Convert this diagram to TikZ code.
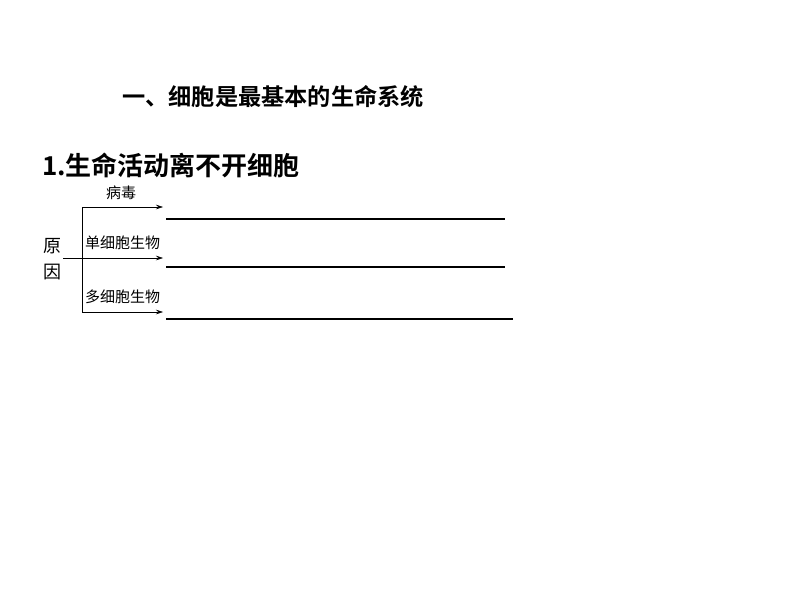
\documentclass[tikz,border=0pt]{standalone}
\usepackage{fontspec}
\usetikzlibrary{arrows.meta}
\newfontfamily\cjk{Noto Sans CJK SC}
\newfontfamily\cjkbold{Noto Sans CJK SC Bold}
\begin{document}
\begin{tikzpicture}[x=1pt,y=-1pt,
    heading/.style={anchor=west,inner sep=0pt,font=\cjkbold\fontsize{23.2}{24}\selectfont},
    label/.style={anchor=west,inner sep=0pt,font=\cjk\fontsize{15}{15}\selectfont},
    cause/.style={inner sep=0pt,font=\cjk\fontsize{18}{18}\selectfont},
    >={Stealth[length=7pt,width=4.5pt]}]
    \useasboundingbox (0,0) rectangle (794,596);
    \node [heading] (h1) at (122,97) {一、细胞是最基本的生命系统};
    \node [heading,font=\cjkbold\fontsize{26}{26}\selectfont] (h2) at (42,165) {1.生命活动离不开细胞};
    \node [cause] (c1) at (52,246) {原};
    \node [cause] (c2) at (52,272) {因};
    \coordinate (s0) at (63,258);
    \coordinate (f1) at (82,207);
    \coordinate (f2) at (82,258);
    \coordinate (f3) at (82,312);
    \coordinate (e1) at (163,207);
    \coordinate (e2) at (163,258);
    \coordinate (e3) at (163,312);
    \draw (f1) -- (f3);
    \draw [->] (f1) -- (e1);
    \draw [->] (s0) -- (e2);
    \draw [->] (f3) -- (e3);
    \node [label] (l1) at (106,193) {病毒};
    \node [label] (l2) at (85,243) {单细胞生物};
    \node [label] (l3) at (85,297) {多细胞生物};
    \draw [line width=1.2pt] (166,219) -- (505,219);
    \draw [line width=1.2pt] (166,267) -- (505,267);
    \draw [line width=1.2pt] (166,319) -- (513,319);
\end{tikzpicture}
\end{document}
